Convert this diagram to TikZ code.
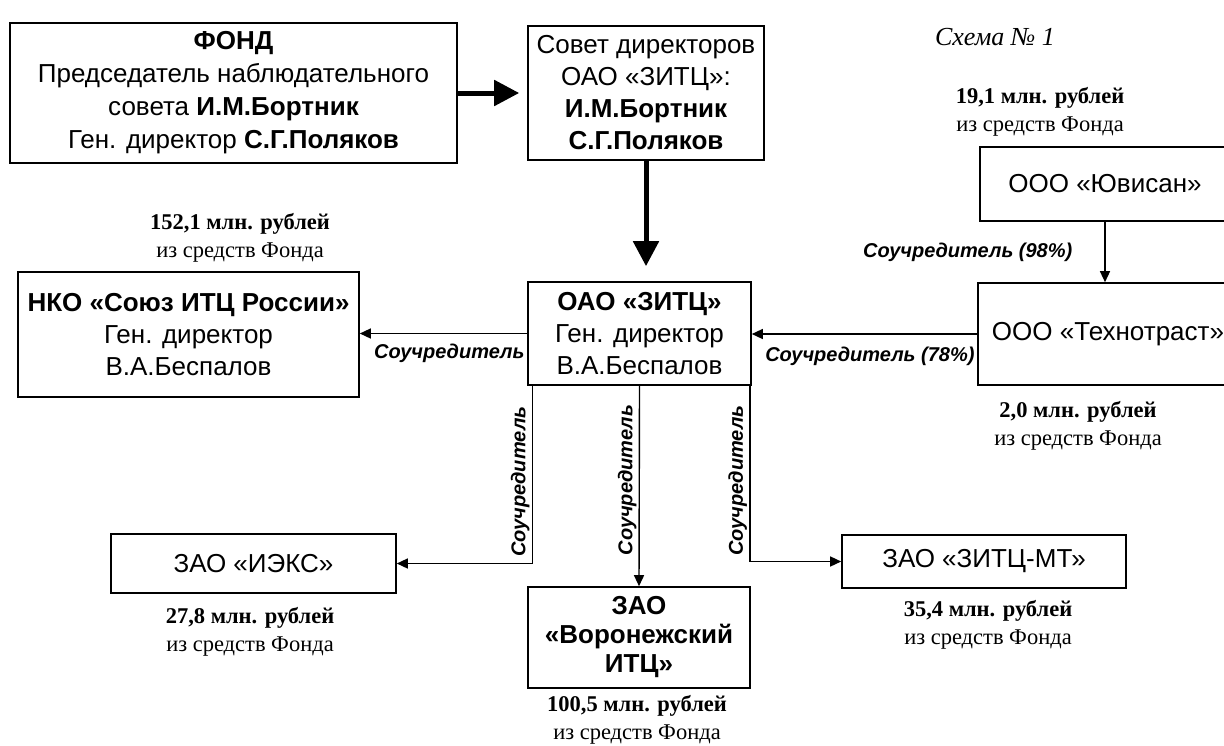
\documentclass[tikz,border=0pt]{standalone}
\usepackage{fontspec}
\setmainfont{Liberation Serif}
\setsansfont{Liberation Sans}
\usetikzlibrary{arrows.meta}
\usetikzlibrary{calc}
\usetikzlibrary{positioning}

\tikzset{
  orgbox/.style={draw, line width=1.6pt, inner sep=0pt, align=center,
    font=\sffamily\fontsize{26}{32}\selectfont},
  sumtext/.style={align=center, inner sep=0pt, font=\fontsize{22.5}{27.5}\selectfont},
  rolelabel/.style={inner sep=2pt, font=\sffamily\bfseries\itshape\fontsize{20}{24}\selectfont},
  boldarrow/.style={line width=5pt, -{Triangle[length=25pt,width=25pt]}},
  thinarrow/.style={line width=1.4pt, -{Triangle[length=11pt,width=10pt]}}
}

\begin{document}
\begin{tikzpicture}[x=1pt, y=-1pt]
\clip (0,0) rectangle (1224,745);

% boxes
\node[orgbox, minimum width=447pt, minimum height=140pt, font=\sffamily\fontsize{26}{33}\selectfont] (fond) at (233.5,93)
  {\textbf{ФОНД}\\Председатель наблюдательного\\совета \textbf{И.М.Бортник}\\Ген. директор \textbf{С.Г.Поляков}};
\node[orgbox, minimum width=236pt, minimum height=134pt] (sovet) at (646,93)
  {Совет директоров\\ОАО «ЗИТЦ»:\\\textbf{И.М.Бортник}\\\textbf{С.Г.Поляков}};
\node[orgbox, minimum width=223pt, minimum height=103pt] (oao) at (639.5,333.5)
  {\textbf{ОАО «ЗИТЦ»}\\Ген. директор\\В.А.Беспалов};
\node[orgbox, minimum width=341pt, minimum height=125pt] (nko) at (188.5,334.5)
  {\textbf{НКО «Союз ИТЦ России»}\\Ген. директор\\В.А.Беспалов};
\node[orgbox, minimum width=250pt, minimum height=74pt] (yuvisan) at (1105,184) {ООО «Ювисан»};
\node[orgbox, minimum width=260pt, minimum height=102pt] (tehno) at (1108,334) {ООО «Технотраст»};
\node[orgbox, minimum width=285pt, minimum height=59pt] (ieks) at (253.5,563.5) {ЗАО «ИЭКС»};
\node[orgbox, minimum width=222pt, minimum height=101pt, font=\sffamily\bfseries\fontsize{26}{29}\selectfont] (voron) at (639,637.5)
  {ЗАО\\«Воронежский\\ИТЦ»};
\node[orgbox, minimum width=284pt, minimum height=53pt] (zitsmt) at (984,561.5) {ЗАО «ЗИТЦ-МТ»};

% money from the fund
\node[font=\itshape\fontsize{26}{30}\selectfont, inner sep=0pt] (schema) at (995,37) {Схема №~1};
\node[sumtext] (sum19) at (1040,112) {\textbf{19,1 млн. рублей}\\из средств Фонда};
\node[sumtext] (sum152) at (240,238) {\textbf{152,1 млн. рублей}\\из средств Фонда};
\node[sumtext] (sum20) at (1078,426) {\textbf{2,0 млн. рублей}\\из средств Фонда};
\node[sumtext] (sum278) at (250,632) {\textbf{27,8 млн. рублей}\\из средств Фонда};
\node[sumtext] (sum1005) at (637,720) {\textbf{100,5 млн. рублей}\\из средств Фонда};
\node[sumtext] (sum354) at (988,625) {\textbf{35,4 млн. рублей}\\из средств Фонда};

% connectors
\draw[boldarrow, shorten >=8pt] (fond.east) -- (sovet.west);
\draw[boldarrow, shorten >=15pt] (sovet.south) -- (sovet.south |- oao.north);

\draw[thinarrow] (oao.west) -- (oao.west -| nko.east)
  node[rolelabel, pos=0, anchor=north east, yshift=-8pt] {Соучредитель};
\draw[thinarrow] (tehno.west) -- (tehno.west -| oao.east)
  node[rolelabel, pos=0, anchor=north east, yshift=-10pt] {Соучредитель (78\%)};
\draw[thinarrow] (yuvisan.south) -- (yuvisan.south |- tehno.north)
  node[rolelabel, midway, anchor=east, xshift=-30pt] {Соучредитель (98\%)};

\coordinate (brl) at ([xshift=5pt]oao.south west);
\coordinate (brr) at ([xshift=-2pt]oao.south east);
\draw[thinarrow] (brl) |- (ieks.east)
  node[rolelabel, rotate=90, anchor=south, pos=0.27] {Соучредитель};
\draw[thinarrow] (oao.south) -- (voron.north)
  node[rolelabel, rotate=90, anchor=south, pos=0.47] {Соучредитель};
\draw[thinarrow] (brr) |- (zitsmt.west)
  node[rolelabel, rotate=90, anchor=south, pos=0.27] {Соучредитель};

\end{tikzpicture}
\end{document}
